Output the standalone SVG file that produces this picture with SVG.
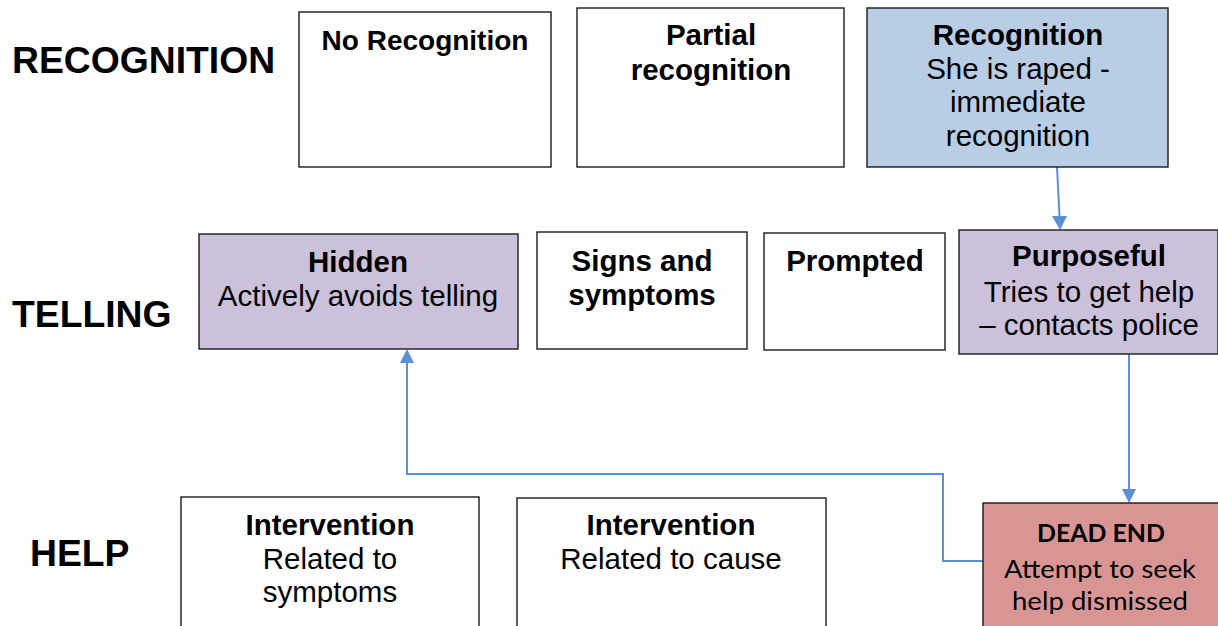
<svg xmlns="http://www.w3.org/2000/svg" width="1218" height="626" viewBox="0 0 1218 626">
<style>
.box{stroke:#1a1a1a;stroke-width:1.4;fill:#ffffff}
.blue{fill:#b9cde5}
.purple{fill:#ccc1da}
.red{fill:#d99594}
text{font-family:"Liberation Sans",Arial,sans-serif;font-size:29.5px;fill:#000;text-anchor:middle}
.b{font-weight:bold}
.sm{font-size:28px}
.row{font-weight:bold;font-size:37.3px;text-anchor:start}
.cal{font-family:Lato,"Open Sans",sans-serif;font-size:25px}
.conn{stroke:#5b8fd6;stroke-width:2;fill:none}
.head{fill:#5b8fd6}
</style>
<rect width="1218" height="626" fill="#ffffff"/>
<g id="labels">
<text class="row" x="12" y="73">RECOGNITION</text>
<text class="row" x="12" y="327">TELLING</text>
<text class="row" x="30" y="566">HELP</text>
</g>
<g id="connectors">
<path class="conn" d="M1057,167 L1059.5,216"/>
<polygon class="head" points="1052,216 1067,216 1060,230"/>
<path class="conn" d="M1129,354 L1129,489"/>
<polygon class="head" points="1122,489 1136,489 1129,503"/>
<path class="conn" d="M983,561 L943,561 L943,474 L407,474 L407,363"/>
<polygon class="head" points="400,363 414,363 407,349"/>
</g>
<g id="no-recognition">
<rect class="box" x="299" y="12" width="252" height="155"/>
<text class="b sm" x="425" y="50">No Recognition</text>
</g>
<g id="partial-recognition">
<rect class="box" x="577" y="8" width="267" height="159"/>
<text class="b" x="711" y="45">Partial</text>
<text class="b" x="711" y="80">recognition</text>
</g>
<g id="recognition">
<rect class="box blue" x="867" y="8" width="301" height="159"/>
<text class="b" x="1018" y="45">Recognition</text>
<text x="1018" y="79">She is raped -</text>
<text x="1018" y="112">immediate</text>
<text x="1018" y="146">recognition</text>
</g>
<g id="hidden">
<rect class="box purple" x="199" y="234" width="319" height="115"/>
<text class="b" x="358" y="272">Hidden</text>
<text x="358" y="306">Actively avoids telling</text>
</g>
<g id="signs-and-symptoms">
<rect class="box" x="537" y="232" width="210" height="117"/>
<text class="b" x="642" y="271">Signs and</text>
<text class="b" x="642" y="305">symptoms</text>
</g>
<g id="prompted">
<rect class="box" x="764" y="233" width="181" height="117"/>
<text class="b" x="855" y="271">Prompted</text>
</g>
<g id="purposeful">
<rect class="box purple" x="959" y="230" width="259" height="124"/>
<text class="b" x="1089" y="266">Purposeful</text>
<text x="1089" y="302">Tries to get help</text>
<text x="1089" y="335">– contacts police</text>
</g>
<g id="intervention-symptoms">
<rect class="box" x="181" y="497" width="298" height="135"/>
<text class="b" x="330" y="535">Intervention</text>
<text x="330" y="569">Related to</text>
<text x="330" y="602">symptoms</text>
</g>
<g id="intervention-cause">
<rect class="box" x="517" y="498" width="309" height="134"/>
<text class="b" x="671" y="535">Intervention</text>
<text x="671" y="569">Related to cause</text>
</g>
<g id="dead-end">
<rect class="box red" x="983" y="503" width="240" height="130"/>
<text class="cal b" x="1101" y="542" textLength="128" lengthAdjust="spacingAndGlyphs">DEAD END</text>
<text class="cal" x="1100" y="578" textLength="192" lengthAdjust="spacingAndGlyphs">Attempt to seek</text>
<text class="cal" x="1100" y="610" textLength="176" lengthAdjust="spacingAndGlyphs">help dismissed</text>
</g>
</svg>
